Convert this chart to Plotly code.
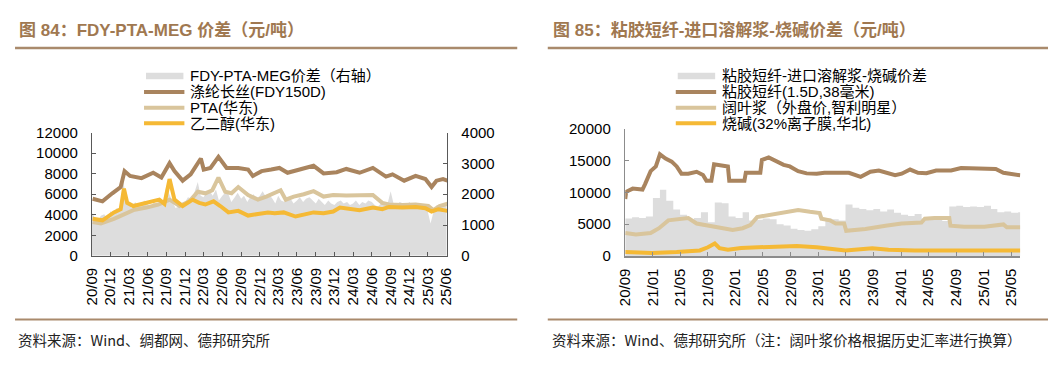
import plotly.graph_objects as go
import pandas as pd

# browser window is 1063x367; the page body keeps its default 8px margin
WIN_W, WIN_H = 1063, 367
OFF = 8
W, H = WIN_W - 2 * OFF, WIN_H - 2 * OFF

# ---------------- 图 84 data ----------------
fdy_dates = ['2020-09-05', '2020-10-23', '2020-12-10', '2021-01-20', '2021-02-08', '2021-03-07',
             '2021-05-02', '2021-06-28', '2021-08-07', '2021-09-16', '2021-10-10', '2021-11-19',
             '2021-12-28', '2022-02-16', '2022-03-02', '2022-04-04', '2022-05-13', '2022-06-22',
             '2022-08-18', '2022-10-05', '2022-10-28', '2022-12-10', '2023-01-26', '2023-03-07',
             '2023-04-16', '2023-06-02', '2023-08-21', '2023-10-09', '2023-12-12', '2024-01-28',
             '2024-04-02', '2024-06-06', '2024-08-09', '2024-09-10', '2024-11-06', '2025-01-01',
             '2025-02-18', '2025-03-20', '2025-04-13', '2025-05-15', '2025-06-06']
fdy_vals = [5560, 5310, 6090, 6700, 8250, 7780,
            7570, 8090, 7630, 9020, 8250, 7320,
            7940, 9480, 8400, 8560, 9640, 8560,
            8560, 8400, 7780, 8250, 8400, 8560,
            8090, 8340, 8770, 8030, 8150, 8460,
            8090, 8560, 7720, 7940, 7320, 7780,
            7480, 6700, 7320, 7480, 7320]

pta_dates = ['2020-09-05', '2020-10-15', '2020-12-18', '2021-02-05', '2021-03-23', '2021-05-26',
             '2021-07-22', '2021-09-16', '2021-11-04', '2021-12-22', '2022-02-01', '2022-03-10',
             '2022-04-13', '2022-05-13', '2022-06-15', '2022-07-16', '2022-08-18', '2022-10-05',
             '2022-11-22', '2023-01-02', '2023-02-03', '2023-03-13', '2023-04-07', '2023-05-16',
             '2023-07-04', '2023-08-21', '2023-10-09', '2023-11-25', '2024-01-28', '2024-04-02',
             '2024-06-06', '2024-07-22', '2024-08-24', '2024-10-28', '2025-01-01', '2025-03-04',
             '2025-03-28', '2025-04-28', '2025-06-06']
pta_vals = [3300, 3150, 3610, 4080, 4450, 4700,
            5000, 5470, 4850, 5310, 6240, 6090,
            6390, 7630, 6240, 6090, 6700, 5930,
            5470, 5770, 6050, 6390, 5470, 5770,
            6000, 6300, 5770, 5930, 5870, 5870,
            5930, 5160, 5000, 4940, 5000, 4850,
            4450, 4850, 5070]

meg_dates = ['2020-09-05', '2020-10-23', '2020-12-18', '2021-01-20', '2021-02-05', '2021-02-21',
             '2021-03-23', '2021-05-10', '2021-06-28', '2021-07-28', '2021-08-22', '2021-09-16',
             '2021-10-10', '2021-11-19', '2022-01-07', '2022-02-08', '2022-03-10', '2022-04-19',
             '2022-05-22', '2022-07-01', '2022-08-18', '2022-10-05', '2022-11-22', '2023-01-10',
             '2023-02-12', '2023-03-28', '2023-05-25', '2023-07-19', '2023-08-21', '2023-10-09',
             '2023-11-25', '2023-12-28', '2024-02-15', '2024-04-02', '2024-06-06', '2024-07-22',
             '2024-08-24', '2024-10-28', '2025-01-01', '2025-02-18', '2025-03-20', '2025-04-22',
             '2025-06-06']
meg_vals = [3610, 3460, 4230, 4540, 6550, 5160,
            4850, 5070, 5250, 5470, 5070, 7480,
            5470, 4850, 5470, 5160, 5000, 5310,
            4850, 4230, 4380, 3920, 4080, 4230,
            4140, 4230, 3830, 4080, 4230, 4140,
            4320, 4700, 4540, 4450, 4700, 4540,
            4760, 4700, 4760, 4630, 4320, 4540,
            4380]

# FDY-PTA-MEG spread (right axis), semi-monthly from 2020-09
spread84_vals = [1400, 1250, 1150, 1300, 1350, 1200, 1450, 1380, 1550, 1500,
                 2450, 1900, 1700, 1550, 1750, 1600, 1650, 1800, 1700, 1550,
                 1750, 1650, 1800, 1700, 2300, 2000, 1750, 1550, 1600, 1700,
                 1750, 1900, 1850, 2050, 2400, 1950, 1900, 2050, 2100, 1950,
                 2150, 1800, 1950, 2050, 2000, 1750, 1900, 2050, 1850, 1950,
                 1750, 1900, 2000, 1850, 1950, 2100, 1900, 2000, 1850, 1700,
                 1950, 1800, 1750, 1900, 1850, 1700, 1800, 1900, 1750, 1850,
                 1900, 1800, 1700, 1850, 1750, 1650, 1800, 1700, 1650, 1750,
                 1800, 1700, 1750, 1650, 1700, 1800, 1650, 1750, 1700, 1800,
                 1750, 1650, 1600, 1700, 1750, 1650, 2100, 1700, 1650, 1750,
                 1700, 1600, 1750, 1650, 1700, 1650, 1600, 1550, 1450, 1050,
                 1500, 1650, 1600, 1700, 1650]
spread84_dates = pd.date_range('2020-09-01', periods=len(spread84_vals), freq='SMS')

x84_tickvals = ['2020-09-01', '2020-12-01', '2021-03-01', '2021-06-01', '2021-09-01',
                '2021-12-01', '2022-03-01', '2022-06-01', '2022-09-01', '2022-12-01',
                '2023-03-01', '2023-06-01', '2023-09-01', '2023-12-01', '2024-03-01',
                '2024-06-01', '2024-09-01', '2024-12-01', '2025-03-01', '2025-06-01']
x84_ticktext = ['20/09', '20/12', '21/03', '21/06', '21/09', '21/12', '22/03', '22/06',
                '22/09', '22/12', '23/03', '23/06', '23/09', '23/12', '24/03', '24/06',
                '24/09', '24/12', '25/03', '25/06']
y84_left_ticks = [0, 2000, 4000, 6000, 8000, 10000, 12000]
y84_right_ticks = [0, 1000, 2000, 3000, 4000]

# ---------------- 图 85 data ----------------
vsf_dates = ['2020-09-01', '2020-09-05', '2020-10-04', '2020-11-16', '2020-11-28', '2020-12-22',
             '2021-01-14', '2021-02-01', '2021-02-26', '2021-03-25', '2021-04-16', '2021-05-07',
             '2021-06-06', '2021-07-13', '2021-08-10', '2021-08-25', '2021-09-16', '2021-09-28',
             '2021-11-28', '2021-12-04', '2022-02-09', '2022-02-15', '2022-04-20', '2022-04-27',
             '2022-05-27', '2022-07-01', '2022-08-01', '2022-08-28', '2022-10-04', '2022-11-10',
             '2022-12-25', '2023-01-28', '2023-03-04', '2023-05-16', '2023-07-07', '2023-08-19',
             '2023-09-25', '2023-12-06', '2024-01-04', '2024-02-10', '2024-03-16', '2024-04-22',
             '2024-06-04', '2024-08-09', '2024-09-22', '2024-12-18', '2025-02-22', '2025-03-28',
             '2025-05-10', '2025-06-10']
vsf_vals = [8950, 10090, 10590, 10450, 11340, 13330,
            14070, 15970, 15310, 14820, 14070, 12930,
            12930, 13230, 12730, 11840, 11840, 14420,
            14070, 11840, 11840, 13080, 13080, 15070,
            15470, 14920, 14320, 14070, 13330, 12980,
            12930, 13080, 13080, 13080, 12430, 13230,
            13430, 12680, 12930, 13580, 13080, 13000,
            13430, 13430, 13820, 13670, 13670, 13080,
            12830, 12680]

pulp_dates = ['2020-09-01', '2020-10-18', '2020-12-22', '2021-01-28', '2021-03-10', '2021-04-24',
              '2021-06-06', '2021-07-13', '2021-08-19', '2021-10-16', '2021-12-19', '2022-02-01',
              '2022-03-07', '2022-04-06', '2022-06-04', '2022-08-01', '2022-10-04', '2022-11-25',
              '2022-12-25', '2023-01-07', '2023-01-15', '2023-02-21', '2023-03-19', '2023-04-25',
              '2023-05-04', '2023-07-28', '2023-10-25', '2024-01-04', '2024-03-31', '2024-04-15',
              '2024-05-28', '2024-08-01', '2024-08-06', '2024-10-06', '2025-01-03', '2025-02-22',
              '2025-03-28', '2025-04-12', '2025-06-10']
pulp_vals = [3630, 3380, 3630, 4380, 5610, 5870,
             5970, 5120, 4870, 4620, 4120, 4380,
             4870, 6120, 6460, 6760, 7250, 6960,
             6860, 6760, 5870, 5610, 5120, 5120,
             3980, 4270, 4780, 5120, 5270, 5870,
             5970, 5970, 4780, 4620, 4620, 4870,
             4970, 4520, 4520]

naoh_dates = ['2020-09-01', '2020-12-28', '2021-04-16', '2021-07-27', '2021-09-01', '2021-10-01',
              '2021-10-22', '2021-11-28', '2022-01-25', '2022-05-19', '2022-09-28', '2022-12-25',
              '2023-02-21', '2023-05-01', '2023-08-27', '2023-11-07', '2024-03-01', '2025-06-10']
naoh_vals = [640, 490, 640, 890, 1390, 1980,
             1240, 990, 1290, 1390, 1590, 1390,
             1140, 890, 1240, 990, 890, 890]

# viscose - pulp - caustic spread, monthly from 2020-09 (last value held to data end)
spread85_vals = [5900, 6100, 6000, 6200, 9100, 10400, 8700, 7300, 6500, 5700,
                 6000, 6900, 5300, 8400, 8300, 6200, 6000, 6900, 5600, 5700,
                 5900, 5800, 5000, 4800, 4300, 4100, 4000, 4200, 4700, 5900,
                 5800, 5600, 8100, 7600, 7400, 7200, 7400, 7000, 7300, 6800,
                 6500, 6300, 6600, 5900, 5700, 5800, 5500, 7800, 7900, 7700,
                 7800, 7700, 7900, 7400, 6900, 7000, 6800, 6900, 6900]
spread85_dates = list(pd.date_range('2020-09-01', periods=len(spread85_vals) - 1, freq='MS')) + [pd.Timestamp('2025-06-10')]

x85_tickvals = ['2020-09-01', '2021-01-01', '2021-05-01', '2021-09-01', '2022-01-01',
                '2022-05-01', '2022-09-01', '2023-01-01', '2023-05-01', '2023-09-01',
                '2024-01-01', '2024-05-01', '2024-09-01', '2025-01-01', '2025-05-01']
x85_ticktext = ['20/09', '21/01', '21/05', '21/09', '22/01', '22/05', '22/09', '23/01',
                '23/05', '23/09', '24/01', '24/05', '24/09', '25/01', '25/05']
y85_ticks = [0, 5000, 10000, 15000, 20000]

# ---------------- styling ----------------
BROWN = '#A9845E'
TAN = '#D9C59C'
ORANGE = '#F5B935'
GRAY = '#DDDDDD'
TITLE_C = '#A07850'
RULE_C = '#A98A6C'
FONT = 'Liberation Sans, Arial, Noto Sans CJK SC, sans-serif'
CJK = 'Noto Sans CJK SC, Liberation Sans, sans-serif'
LW = 4


def px(x):
    """window pixel x -> paper fraction"""
    return (x - OFF) / W


def py(y):
    """window pixel y -> paper fraction"""
    return 1 - (y - OFF) / H


fig = go.Figure()

# Figure 84 traces
fig.add_trace(go.Scatter(x=spread84_dates, y=spread84_vals, name='FDY-PTA-MEG价差（右轴）',
                         mode='lines', line=dict(width=0, color=GRAY), fill='tozeroy',
                         fillcolor=GRAY, xaxis='x', yaxis='y', showlegend=False))
fig.add_trace(go.Scatter(x=fdy_dates, y=fdy_vals, name='涤纶长丝(FDY150D)', mode='lines',
                         line=dict(width=LW, color=BROWN), xaxis='x', yaxis='y2', showlegend=False))
fig.add_trace(go.Scatter(x=pta_dates, y=pta_vals, name='PTA(华东)', mode='lines',
                         line=dict(width=LW, color=TAN), xaxis='x', yaxis='y2', showlegend=False))
fig.add_trace(go.Scatter(x=meg_dates, y=meg_vals, name='乙二醇(华东)', mode='lines',
                         line=dict(width=LW, color=ORANGE), xaxis='x', yaxis='y2', showlegend=False))

# Figure 85 traces
fig.add_trace(go.Scatter(x=spread85_dates, y=spread85_vals, name='粘胶短纤-进口溶解浆-烧碱价差',
                         mode='lines', line=dict(width=0, color=GRAY, shape='hv'), fill='tozeroy',
                         fillcolor=GRAY, xaxis='x3', yaxis='y3', showlegend=False))
fig.add_trace(go.Scatter(x=vsf_dates, y=vsf_vals, name='粘胶短纤(1.5D,38毫米)', mode='lines',
                         line=dict(width=LW, color=BROWN), xaxis='x3', yaxis='y3', showlegend=False))
fig.add_trace(go.Scatter(x=pulp_dates, y=pulp_vals, name='阔叶浆（外盘价,智利明星）', mode='lines',
                         line=dict(width=LW, color=TAN), xaxis='x3', yaxis='y3', showlegend=False))
fig.add_trace(go.Scatter(x=naoh_dates, y=naoh_vals, name='烧碱(32%离子膜,华北)', mode='lines',
                         line=dict(width=LW, color=ORANGE), xaxis='x3', yaxis='y3', showlegend=False))

tickfont = dict(family=FONT, size=15, color='#000000')
axis_common = dict(showgrid=False, zeroline=False, showline=True, ticks='inside', ticklen=4,
                   tickfont=tickfont, fixedrange=True)

fig.update_layout(
    width=W, height=H, autosize=False,
    margin=dict(l=0, r=0, t=0, b=0, pad=0),
    paper_bgcolor='white', plot_bgcolor='white',
    font=dict(family=FONT, size=14, color='#000000'),
    showlegend=False,
    xaxis=dict(domain=[px(84), px(445)], anchor='y', type='date',
               range=['2020-09-01', '2025-06-05'], tickvals=x84_tickvals, ticktext=x84_ticktext,
               tickangle=-90, linecolor='#595959', tickcolor='#595959', ticklabelstandoff=5,
               **axis_common),
    yaxis=dict(domain=[py(259), py(129.5)], anchor='x', side='right', range=[0, 4000],
               tickvals=y84_right_ticks, ticktext=[str(v) for v in y84_right_ticks],
               linecolor='#595959', tickcolor='#595959', ticklabelstandoff=10, **axis_common),
    yaxis2=dict(overlaying='y', anchor='x', side='left', range=[0, 12000],
                tickvals=y84_left_ticks, ticktext=[str(v) for v in y84_left_ticks],
                linecolor='#595959', tickcolor='#595959', ticklabelstandoff=10, **axis_common),
    xaxis3=dict(domain=[px(625.7), px(1027)], anchor='y3', type='date',
                range=['2020-09-01', '2025-06-11'], tickvals=x85_tickvals, ticktext=x85_ticktext,
                tickangle=-90, linecolor='#8C8C8C', tickcolor='#8C8C8C', linewidth=1.5,
                ticklabelstandoff=5, **axis_common),
    yaxis3=dict(domain=[py(259.3), py(125.3)], anchor='x3', range=[0, 20000],
                tickvals=y85_ticks, ticktext=[str(v) for v in y85_ticks],
                linecolor='#8C8C8C', tickcolor='#8C8C8C', linewidth=1.5, ticklabelstandoff=10,
                **axis_common),
)

# titles
fig.add_annotation(x=px(8), y=py(22), xref='paper', yref='paper', xanchor='left', yanchor='middle',
                   showarrow=False, text='图 84：FDY-PTA-MEG 价差（元/吨）',
                   font=dict(family=FONT, size=17, color=TITLE_C, weight='bold'))
fig.add_annotation(x=px(550), y=py(22), xref='paper', yref='paper', xanchor='left', yanchor='middle',
                   showarrow=False, text='图 85：粘胶短纤-进口溶解浆-烧碱价差（元/吨）',
                   font=dict(family=FONT, size=17, color=TITLE_C, weight='bold'))

# sources
fig.add_annotation(x=px(7), y=py(347), xref='paper', yref='paper', xanchor='left', yanchor='middle',
                   showarrow=False, text='资料来源：Wind、绸都网、德邦研究所',
                   font=dict(family=CJK, size=14.5, color='#222222'))
fig.add_annotation(x=px(549), y=py(347), xref='paper', yref='paper', xanchor='left', yanchor='middle',
                   showarrow=False, text='资料来源：Wind、德邦研究所（注：阔叶浆价格根据历史汇率进行换算）',
                   font=dict(family=CJK, size=14.5, color='#222222'))

# rules
for x0, x1 in [(6, 516), (547, 1055)]:
    fig.add_shape(type='line', xref='paper', yref='paper', x0=px(x0), x1=px(x1), y0=py(40.7),
                  y1=py(40.7), line=dict(color=RULE_C, width=2.5))
    fig.add_shape(type='line', xref='paper', yref='paper', x0=px(x0), x1=px(x1), y0=py(326),
                  y1=py(326), line=dict(color=RULE_C, width=2))

# legends (drawn as keys + labels, taken from the trace names)
rows = [70, 86.8, 103.3, 119.6]
for traces, sx0, sx1, tx in [(fig.data[0:4], 137, 178, 182), (fig.data[4:8], 677, 718, 722)]:
    for i, tr in enumerate(traces):
        yy = rows[i]
        if tr.fill:
            fig.add_shape(type='rect', xref='paper', yref='paper', x0=px(sx0 + 2), x1=px(sx1 - 1),
                          y0=py(yy - 3.5), y1=py(yy + 3.5), fillcolor=tr.fillcolor,
                          line=dict(width=0))
        else:
            fig.add_shape(type='line', xref='paper', yref='paper', x0=px(sx0), x1=px(sx1),
                          y0=py(yy), y1=py(yy), line=dict(color=tr.line.color, width=LW))
        fig.add_annotation(x=px(tx), y=py(yy), xref='paper', yref='paper', xanchor='left',
                           yanchor='middle', showarrow=False, text=tr.name,
                           font=dict(family=FONT, size=15, color='#000000'))

fig.write_html('out.html', config={'displayModeBar': False, 'staticPlot': True})
